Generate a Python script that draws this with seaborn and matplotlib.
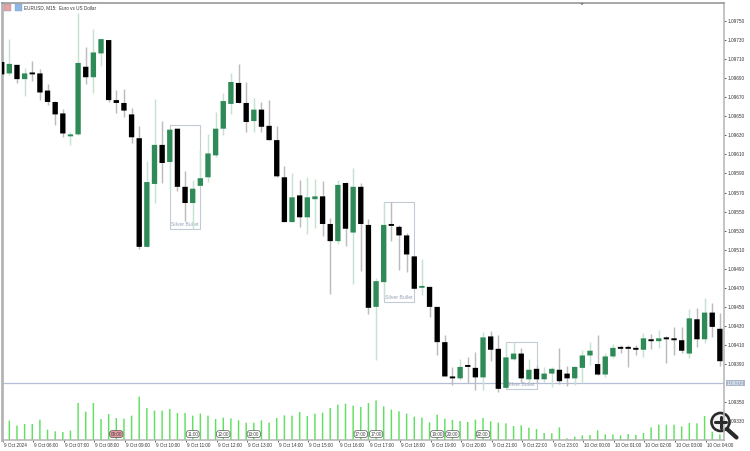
import matplotlib
matplotlib.use("Agg")
import matplotlib.pyplot as plt
from matplotlib.patches import Circle, Rectangle
from matplotlib.lines import Line2D
from matplotlib.transforms import Affine2D, ScaledTranslation
import numpy as np
import pandas as pd
import seaborn as sns

highs = [1.09707,1.09731,1.09704,1.09701,1.09708,1.09700,1.09684,1.09666,1.09658,1.09633,
1.09758,1.09723,1.09742,1.09731,1.09730,1.09678,1.09679,1.09659,1.09640,1.09603,
1.09668,1.09645,1.09636,1.09637,1.09593,1.09583,1.09615,1.09631,1.09654,1.09674,
1.09695,1.09705,1.09686,1.09669,1.09665,1.09667,1.09640,1.09598,1.09590,1.09583,
1.09586,1.09584,1.09582,1.09543,1.09583,1.09581,1.09596,1.09580,1.09542,1.09480,
1.09560,1.09560,1.09536,1.09528,1.09503,1.09500,1.09471,1.09450,1.09420,1.09387,
1.09395,1.09397,1.09403,1.09424,1.09425,1.09420,1.09412,1.09413,1.09407,1.09395,
1.09389,1.09387,1.09387,1.09407,1.09388,1.09388,1.09405,1.09413,1.09420,1.09402,
1.09411,1.09410,1.09410,1.09410,1.09423,1.09422,1.09426,1.09419,1.09429,1.09429,
1.09448,1.09449,1.09459,1.09454,1.09444]
opens = [1.09707,1.09695,1.09704,1.09689,1.09696,1.09695,1.09677,1.09665,1.09653,1.09629,
1.09631,1.09702,1.09691,1.09716,1.09730,1.09667,1.09664,1.09652,1.09627,1.09513,
1.09579,1.09620,1.09602,1.09637,1.09576,1.09559,1.09577,1.09586,1.09609,1.09637,
1.09663,1.09685,1.09664,1.09645,1.09657,1.09640,1.09625,1.09586,1.09539,1.09567,
1.09544,1.09563,1.09566,1.09537,1.09519,1.09580,1.09528,1.09576,1.09536,1.09450,
1.09476,1.09536,1.09534,1.09525,1.09503,1.09470,1.09471,1.09450,1.09413,1.09377,
1.09375,1.09389,1.09386,1.09376,1.09419,1.09406,1.09365,1.09395,1.09401,1.09374,
1.09385,1.09374,1.09380,1.09384,1.09380,1.09375,1.09386,1.09399,1.09390,1.09379,
1.09398,1.09407,1.09407,1.09406,1.09405,1.09416,1.09414,1.09417,1.09417,1.09415,
1.09401,1.09437,1.09416,1.09444,1.09427]
closes = [1.09694,1.09705,1.09689,1.09695,1.09694,1.09675,1.09665,1.09652,1.09632,1.09631,
1.09706,1.09691,1.09717,1.09731,1.09667,1.09664,1.09656,1.09628,1.09513,1.09581,
1.09620,1.09601,1.09636,1.09576,1.09559,1.09574,1.09585,1.09611,1.09637,1.09666,
1.09686,1.09664,1.09644,1.09657,1.09639,1.09625,1.09587,1.09539,1.09565,1.09544,
1.09565,1.09566,1.09537,1.09519,1.09578,1.09532,1.09576,1.09537,1.09449,1.09477,
1.09536,1.09535,1.09525,1.09505,1.09469,1.09471,1.09450,1.09413,1.09377,1.09375,
1.09387,1.09387,1.09376,1.09418,1.09405,1.09364,1.09397,1.09401,1.09375,1.09384,
1.09374,1.09380,1.09385,1.09372,1.09375,1.09387,1.09399,1.09404,1.09379,1.09398,
1.09407,1.09406,1.09406,1.09405,1.09417,1.09414,1.09417,1.09416,1.09415,1.09404,
1.09438,1.09416,1.09444,1.09429,1.09393]
lows = [1.09694,1.09693,1.09685,1.09671,1.09687,1.09667,1.09662,1.09641,1.09628,1.09620,
1.09630,1.09684,1.09674,1.09703,1.09665,1.09653,1.09649,1.09622,1.09511,1.09513,
1.09559,1.09580,1.09573,1.09572,1.09540,1.09532,1.09577,1.09581,1.09607,1.09630,
1.09652,1.09664,1.09633,1.09633,1.09633,1.09625,1.09586,1.09539,1.09539,1.09534,
1.09526,1.09533,1.09524,1.09464,1.09516,1.09514,1.09474,1.09488,1.09443,1.09394,
1.09459,1.09519,1.09489,1.09487,1.09469,1.09462,1.09439,1.09399,1.09377,1.09368,
1.09373,1.09370,1.09363,1.09363,1.09393,1.09361,1.09365,1.09394,1.09371,1.09370,
1.09370,1.09371,1.09366,1.09369,1.09367,1.09368,1.09370,1.09389,1.09379,1.09376,
1.09396,1.09402,1.09387,1.09399,1.09397,1.09406,1.09407,1.09391,1.09399,1.09402,
1.09396,1.09408,1.09412,1.09418,1.09388]
volumes = [0,58,43,48,48,61,31,26,24,28,111,85,111,63,78,66,64,73,130,96,88,88,93,81,81,73,
79,73,63,67,65,59,52,52,59,52,66,74,73,84,72,79,82,96,106,109,103,99,111,119,101,91,86,79,
70,67,53,76,64,60,57,54,61,66,56,52,50,42,44,37,33,21,20,38,5,10,14,15,29,17,17,14,18,15,
21,38,46,46,46,41,51,50,72,25,17]

time_bars = list(range(0, 95, 4))
time_labels = ["9 Oct 2024","9 Oct 06:00","9 Oct 07:00","9 Oct 08:00","9 Oct 09:00","9 Oct 10:00",
"9 Oct 11:00","9 Oct 12:00","9 Oct 13:00","9 Oct 14:00","9 Oct 15:00","9 Oct 16:00","9 Oct 17:00",
"9 Oct 18:00","9 Oct 19:00","9 Oct 20:00","9 Oct 21:00","9 Oct 22:00","9 Oct 23:00","10 Oct 00:00",
"10 Oct 01:00","10 Oct 02:00","10 Oct 03:00","10 Oct 04:00"]
price_ticks = [1.09750,1.09730,1.09710,1.09690,1.09670,1.09650,1.09630,1.09610,1.09590,1.09570,
1.09550,1.09530,1.09510,1.09490,1.09470,1.09450,1.09430,1.09410,1.09390,1.09350,1.09330]
current_price = 1.09370
current_label = "1.09372"
sessions_start = [22, 50, 66]
sessions_end = [26, 54, 70]
sessions_top = [1.09641, 1.09560, 1.09413]
sessions_bottom = [1.09532, 1.09455, 1.09364]
session_name = "Silver Bullet"
tag_bars = [15, 25, 29, 33, 47, 49, 57, 59, 63]
tag_labels = ["09:00","11:00","12:00","13:00","17:00","17:00","19:00","20:00","22:00"]
title = "EURUSD, M15:  Euro vs US Dollar"

W, H = 750, 451
FONT = "Liberation Sans"
sns.set_theme(style="white")
plt.rcParams["font.family"] = [FONT, "DejaVu Sans"]

df = pd.DataFrame({"bar": range(len(opens)), "open": opens, "high": highs, "low": lows,
                   "close": closes, "volume": volumes})
df["up"] = df["close"] >= df["open"]

fig = plt.figure(figsize=(W / 100, H / 100), dpi=100, facecolor="white")
ax = fig.add_axes([1.5 / W, (H - 440) / H, (724 - 1.5) / W, 437 / H])
XLIM = (-0.026, 94.54)
ax.set_facecolor("white")

# volumes
vax = ax.twinx()
vax.patch.set_visible(False)
sns.barplot(data=df, x="bar", y="volume", native_scale=True, ax=vax, color="#5fe05f",
            saturation=1, width=0.19, linewidth=0, legend=False)
for p in vax.patches:
    p.set_snap(False)
vax.set_ylim(0, 437 * 3)
vax.set_xlabel(""); vax.set_ylabel("")
vax.set_yticks([]); vax.tick_params(left=False, right=False, bottom=False, labelbottom=False)
for s in vax.spines.values():
    s.set_visible(False)

GREEN, GREEN_W = "#2e8b57", "#c6e2d2"
BLACK, BLACK_W = "#000000", "#bcbcbc"
ax.set_zorder(vax.get_zorder() + 1)
ax.patch.set_visible(False)

# session boxes (behind the candles)
for x0, x1, top, bot in zip(sessions_start, sessions_end, sessions_top, sessions_bottom):
    ax.add_patch(Rectangle((x0, bot), x1 - x0, top - bot, fill=False, edgecolor="#c3cad6",
                           linewidth=0.8, zorder=1.5))
    ax.annotate(session_name, xy=((x0 + x1) / 2, bot), xytext=(0, 3.0), textcoords="offset points",
                ha="center", va="center", fontsize=3.7, color="#97a3b8", zorder=1.6)

wick_cols = np.where(df["up"], GREEN_W, BLACK_W)
ax.vlines(df["bar"], df["low"], df["high"], colors=wick_cols, linewidth=1.05, zorder=2)
body_bottom = df[["open", "close"]].min(axis=1)
body_height = (df["open"] - df["close"]).abs().clip(lower=0.00002)
ax.bar(df["bar"], body_height, bottom=body_bottom, width=0.70,
       color=np.where(df["up"], GREEN, BLACK), linewidth=0, zorder=3, snap=False)

# current price line
ax.axhline(current_price, color="#b4bfd6", linewidth=0.9, zorder=1)

ax.set_xlim(*XLIM)
vax.set_xlim(*XLIM)
ax.set_ylim(1.093103, 1.097689)

ax.yaxis.tick_right()
ax.set_yticks(price_ticks, [f"{p:.5f}" for p in price_ticks])
ax.tick_params(axis="y", right=True, length=1.6, width=0.6, color="#444444", pad=1.0,
               labelsize=3.4, labelcolor="#333333")
ax.set_xticks([b + 0.13 for b in time_bars], time_labels, ha="left")
ax.tick_params(axis="x", bottom=True, length=1.6, width=0.6, color="#444444", pad=0.6,
               labelsize=3.3, labelcolor="#333333")
for lbl in ax.get_xticklabels():
    lbl.set_transform(lbl.get_transform() + ScaledTranslation(1 / 100, 0, fig.dpi_scale_trans))
for name, s in ax.spines.items():
    s.set_visible(True)
    s.set_color("#b4b4b4")
    s.set_linewidth(1.1)
ax.spines["top"].set_color("#8f8f8f")
ax.spines["left"].set_linewidth(2.0)

# current price tag
ax.annotate(current_label, xy=(1, current_price), xycoords=ax.get_yaxis_transform(),
            xytext=(2.0, 0), textcoords="offset points", ha="left", va="center",
            fontsize=3.4, color="#ffffff",
            bbox=dict(boxstyle="square,pad=0.18", fc="#a9b6cc", ec="none"), annotation_clip=False)

# time tags on the axis
for b, t in zip(tag_bars, tag_labels):
    pink = t == "09:00"
    ax.text(b, 0.0135, t, transform=ax.get_xaxis_transform(), ha="center", va="center",
            fontsize=3.3, color="#444444", zorder=6,
            bbox=dict(boxstyle="round,pad=0.22,rounding_size=0.6", fc="#e79aa4" if pink else "#ffffff",
                      ec="#555555", linewidth=0.5))

# header
fig.text(24 / W, 1 - 7.5 / H, title, fontsize=3.3, color="#333333", ha="left", va="center")
for x0, col in ((4, "#e8a0a0"), (15, "#8fb8e8")):
    fig.add_artist(Rectangle((x0 / W, 1 - 10.5 / H), 7 / W, 6 / H, transform=fig.transFigure,
                             fc=col, ec="#7f9fc8", linewidth=0.3))

# top marker
fig.add_artist(plt.Polygon([(580 / W, 1 - 3 / H), (584 / W, 1 - 3 / H), (582 / W, 1 - 5 / H)],
                           transform=fig.transFigure, fc="#444444", ec="none"))

# zoom icon
px = Affine2D().scale(1, -1).translate(0, H)
fig.add_artist(Line2D([727, 736.5], [429, 437.5], transform=px, color="#2a2a2a", linewidth=3.0,
                      solid_capstyle="round"))
fig.add_artist(Circle((720.5, 422), 9, transform=px, fc="#f4f4f4", ec="#2a2a2a", linewidth=1.9))
fig.add_artist(Line2D([715, 726], [422, 422], transform=px, color="#2a2a2a", linewidth=2.2))
fig.add_artist(Line2D([720.5, 720.5], [416.5, 427.5], transform=px, color="#2a2a2a", linewidth=2.2))

fig.savefig("out.png", dpi=100, facecolor="white")
